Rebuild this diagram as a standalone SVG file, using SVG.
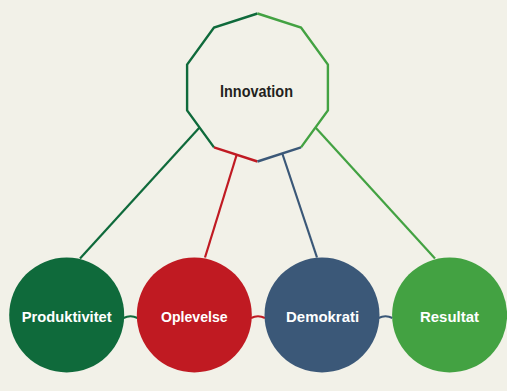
<svg xmlns="http://www.w3.org/2000/svg" width="507" height="391" viewBox="0 0 507 391">
  <style>
    .edge { fill: none; stroke-width: 2.4; stroke-linecap: butt; stroke-linejoin: miter; }
    .link { fill: none; stroke-width: 2.2; }
    .dg { stroke: #0f6a3b; }
    .rd { stroke: #c01a22; }
    .bl { stroke: #3b5878; }
    .lg { stroke: #43a242; }
    .hub { font-family: "Liberation Sans", Arial, sans-serif; font-weight: bold; font-size: 16px; fill: #231f20; text-anchor: middle; }
    .lbl { font-family: "Liberation Sans", Arial, sans-serif; font-weight: bold; font-size: 15px; fill: #ffffff; text-anchor: middle; }
  </style>
  <rect x="0" y="0" width="507" height="391" fill="#f2f1e8"/>

  <!-- connectors -->
  <g id="connectors">
    <line class="link dg" x1="199.5" y1="127.4" x2="80" y2="258.5"/>
    <line class="link rd" x1="236.7" y1="154.7" x2="205" y2="257.5"/>
    <line class="link bl" x1="282.3" y1="153.5" x2="317" y2="257.5"/>
    <line class="link lg" x1="315.5" y1="127.4" x2="435" y2="258.5"/>
    <path class="link dg" d="M123.5 318 Q130.5 314.5 137.5 318"/>
    <path class="link rd" d="M251 318 Q258 314.5 265 318"/>
    <path class="link bl" d="M378.5 318 Q385.5 314.5 392.5 318"/>
  </g>

  <!-- central decagon -->
  <g id="innovation">
    <polyline class="edge dg" points="257.5,13.5 214,27.6 187.1,64.6 187.1,110.4 214,147.4"/>
    <polyline class="edge rd" points="214,147.4 257.5,161.5"/>
    <polyline class="edge bl" points="257.5,161.5 301,147.4"/>
    <polyline class="edge lg" points="301,147.4 327.9,110.4 327.9,64.6 301,27.6 257.5,13.5"/>
    <text class="hub" x="256.5" y="96.5" textLength="73" lengthAdjust="spacingAndGlyphs">Innovation</text>
  </g>

  <g id="produktivitet">
    <circle cx="66.7" cy="315" r="57.5" fill="#0f6a3b"/>
    <text class="lbl" x="66.7" y="321.5" textLength="90" lengthAdjust="spacingAndGlyphs">Produktivitet</text>
  </g>
  <g id="oplevelse">
    <circle cx="194.3" cy="315" r="57.5" fill="#c01a22"/>
    <text class="lbl" x="194.3" y="321.5" textLength="66.5" lengthAdjust="spacingAndGlyphs">Oplevelse</text>
  </g>
  <g id="demokrati">
    <circle cx="322" cy="315" r="57.5" fill="#3b5878"/>
    <text class="lbl" x="322.6" y="321.5" textLength="73" lengthAdjust="spacingAndGlyphs">Demokrati</text>
  </g>
  <g id="resultat">
    <circle cx="449.6" cy="315" r="57.5" fill="#43a242"/>
    <text class="lbl" x="449.5" y="321.5" textLength="59" lengthAdjust="spacingAndGlyphs">Resultat</text>
  </g>
</svg>
